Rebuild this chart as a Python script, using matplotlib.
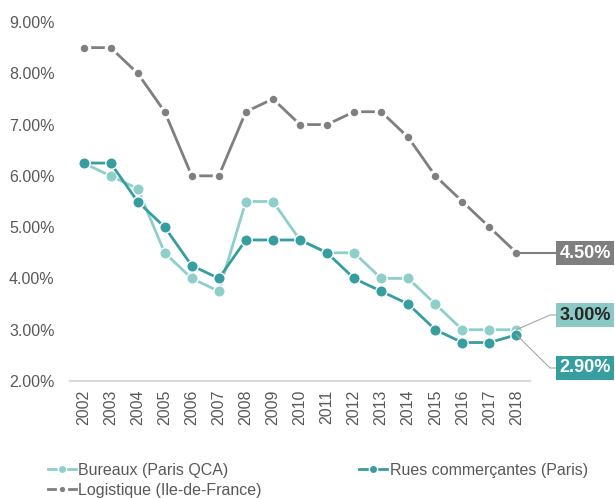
import matplotlib
matplotlib.use("Agg")
import matplotlib.pyplot as plt
from matplotlib.ticker import FuncFormatter

plt.rcParams['font.family'] = ['Liberation Sans', 'DejaVu Sans']

# data
years = list(range(2002, 2019))
bureaux = [6.25, 6.0, 5.75, 4.5, 4.0, 3.75, 5.5, 5.5, 4.75, 4.5, 4.5, 4.0, 4.0, 3.5, 3.0, 3.0, 3.0]
rues = [6.25, 6.25, 5.5, 5.0, 4.25, 4.0, 4.75, 4.75, 4.75, 4.5, 4.0, 3.75, 3.5, 3.0, 2.75, 2.75, 2.9]
logistique = [8.5, 8.5, 8.0, 7.25, 6.0, 6.0, 7.25, 7.5, 7.0, 7.0, 7.25, 7.25, 6.75, 6.0, 5.5, 5.0, 4.5]
labels = ['Bureaux (Paris QCA)', 'Rues commerçantes (Paris)', 'Logistique (Ile-de-France)']
yticks = [2, 3, 4, 5, 6, 7, 8, 9]

c_bur = '#8ECFCA'
c_rue = '#379EA0'
c_log = '#7F7F7F'
txt = '#595959'

fig = plt.figure(figsize=(6.15, 4.98), dpi=100)
ax = fig.add_axes([70/615, 1-381/498, 460/615, 359/498])

l_log, = ax.plot(years, logistique, color=c_log, lw=2, marker='o', ms=7.6,
                 mfc=c_log, mec='white', mew=2.2, zorder=3)
l_bur, = ax.plot(years, bureaux, color=c_bur, lw=2, marker='o', ms=8.2,
                 mfc=c_bur, mec='white', mew=1, zorder=4)
l_rue, = ax.plot(years, rues, color=c_rue, lw=2, marker='o', ms=8.2,
                 mfc=c_rue, mec='white', mew=1, zorder=5)

ax.set_xlim(2001.5, 2018.5)
ax.set_ylim(2, 9)
ax.set_yticks(yticks)
ax.yaxis.set_major_formatter(FuncFormatter(lambda v, p: '%.2f%%' % v))
ax.set_xticks(years)
ax.set_xticklabels([str(y) for y in years], rotation=90)
ax.tick_params(axis='y', length=0, pad=11, labelsize=11.5, labelcolor=txt)
ax.tick_params(axis='x', length=0, pad=6, labelsize=11.5, labelcolor=txt)
for s in ['top', 'right', 'left']:
    ax.spines[s].set_visible(False)
ax.spines['bottom'].set_color('#D9D9D9')
ax.spines['bottom'].set_linewidth(1.5)

# end labels with leader lines
ends = [
    (logistique[-1], 245, c_log, 'white', c_log, 1.5, False),
    (bureaux[-1], 183, '#8AC9C5', '#262626', '#A6A6A6', 0.8, True),
    (rues[-1], 130, c_rue, 'white', '#A6A6A6', 0.8, True),
]
for val, ypx, bg, fg, lc, lw, elbow in ends:
    x0, y0 = ax.transData.transform((years[-1], val))
    fig.text(585/615, ypx/498, '%.2f%%' % val, ha='center', va='center',
             fontsize=13, fontweight='bold', color=fg,
             bbox=dict(boxstyle='square,pad=0.2', fc=bg, ec='none'))
    if elbow:
        xs = [x0, 550, 556]
        ys = [y0, ypx, ypx]
    else:
        xs = [x0, 556]
        ys = [y0, y0]
    fig.add_artist(plt.Line2D([x / 615 for x in xs], [y / 498 for y in ys],
                              color=lc, lw=lw, zorder=2))

leg = fig.legend([l_bur, l_log, l_rue], [labels[0], labels[2], labels[1]],
                 loc='upper left', bbox_to_anchor=(48/615, 1-463/498), ncol=2,
                 frameon=False, fontsize=11.5, handlelength=1.75, handletextpad=0.15,
                 columnspacing=6.1, labelspacing=0.3, borderaxespad=0, borderpad=0)
for t in leg.get_texts():
    t.set_color(txt)
for h in leg.legend_handles:
    h.set_markersize(6)

fig.savefig('out.png', dpi=100)
